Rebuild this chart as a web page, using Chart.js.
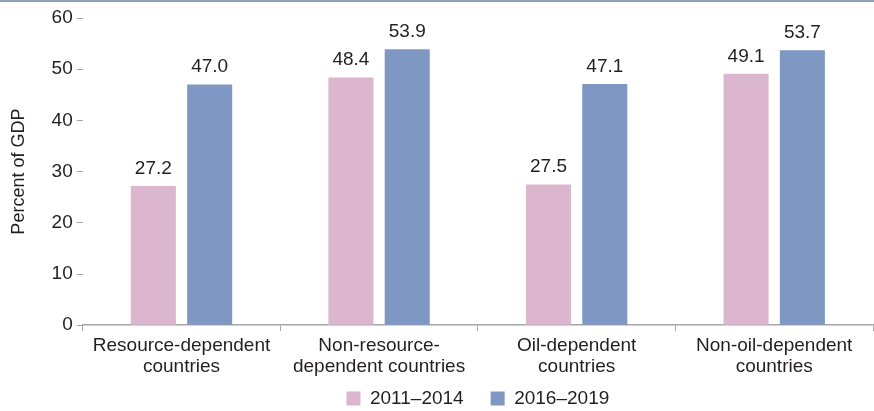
<!DOCTYPE html>
<html>
<head>
<meta charset="utf-8">
<script src="https://cdn.jsdelivr.net/npm/chart.js@4/dist/chart.umd.min.js"></script>
<style>
  html, body { margin: 0; padding: 0; background: #fff; }
  #wrap { width: 874px; height: 411px; position: relative; }
</style>
</head>
<body>
<div id="wrap"><canvas id="chart"></canvas></div>
<script>
const categories = [
  ["Resource-dependent", "countries"],
  ["Non-resource-", "dependent countries"],
  ["Oil-dependent", "countries"],
  ["Non-oil-dependent", "countries"],
];
const seriesNames = ["2011\u20132014", "2016\u20132019"];
const values2011 = [27.2, 48.4, 27.5, 49.1];
const values2016 = [47.0, 53.9, 47.1, 53.7];
const yTicks = [0, 10, 20, 30, 40, 50, 60];

const FONT = "'Liberation Sans', Arial, sans-serif";
const TEXT = "#231f20";

const barLabels = {
  id: "barLabels",
  afterDatasetsDraw(chart) {
    const ctx = chart.ctx;
    ctx.save();
    ctx.font = "19px " + FONT;
    ctx.fillStyle = TEXT;
    ctx.textAlign = "center";
    ctx.textBaseline = "bottom";
    chart.data.datasets.forEach((ds, i) => {
      chart.getDatasetMeta(i).data.forEach((bar, j) => {
        ctx.fillText(ds.data[j].toFixed(1), bar.x, bar.y - 8);
      });
    });
    ctx.restore();
  },
};

const topRule = {
  id: "topRule",
  beforeDraw(chart) {
    const ctx = chart.ctx;
    ctx.save();
    ctx.strokeStyle = "#8fa2b7";
    ctx.lineWidth = 2;
    ctx.beginPath();
    ctx.moveTo(0, 1);
    ctx.lineTo(chart.width, 1);
    ctx.stroke();
    ctx.restore();
  },
};

new Chart(document.getElementById("chart"), {
  type: "bar",
  data: {
    labels: categories,
    datasets: [
      {
        label: seriesNames[0],
        data: values2011,
        backgroundColor: "#dcb6cf",
        categoryPercentage: 0.57,
        barPercentage: 0.8,
      },
      {
        label: seriesNames[1],
        data: values2016,
        backgroundColor: "#7f97c3",
        categoryPercentage: 0.57,
        barPercentage: 0.8,
      },
    ],
  },
  options: {
    responsive: true,
    maintainAspectRatio: false,
    animation: false,
    layout: { padding: { top: 18, right: 1, left: 8, bottom: -7 } },
    plugins: {
      legend: {
        position: "bottom",
        fullSize: false,
        labels: {
          font: { family: FONT, size: 19 },
          color: TEXT,
          boxWidth: 14,
          boxHeight: 14,
          padding: 8,
          generateLabels(chart) {
            const items = Chart.defaults.plugins.legend.labels.generateLabels(chart);
            // extra room between the two legend entries
            items[0].text = items[0].text + "\u2003";
            return items;
          },
        },
      },
      tooltip: { enabled: false },
    },
    scales: {
      x: {
        grid: {
          offset: true,
          drawOnChartArea: false,
          drawTicks: true,
          tickLength: 6,
          tickColor: "#a6a6a6",
        },
        border: { display: true, color: "#a6a6a6", width: 1.5 },
        ticks: {
          font: { family: FONT, size: 19, lineHeight: 1.1 },
          color: TEXT,
          maxRotation: 0,
          autoSkip: false,
          padding: 4,
        },
      },
      y: {
        min: 0,
        max: 60,
        afterBuildTicks(axis) {
          axis.ticks = yTicks.map((v) => ({ value: v }));
        },
        grid: {
          drawOnChartArea: false,
          drawTicks: true,
          tickLength: 6,
          tickColor: "#a6a6a6",
        },
        border: { display: false },
        ticks: {
          font: { family: FONT, size: 19 },
          color: TEXT,
          padding: 4,
        },
        title: {
          display: true,
          text: "Percent of GDP",
          font: { family: FONT, size: 18 },
          color: TEXT,
          padding: { top: 0, bottom: 18 },
        },
      },
    },
  },
  plugins: [barLabels, topRule],
});
</script>
</body>
</html>
